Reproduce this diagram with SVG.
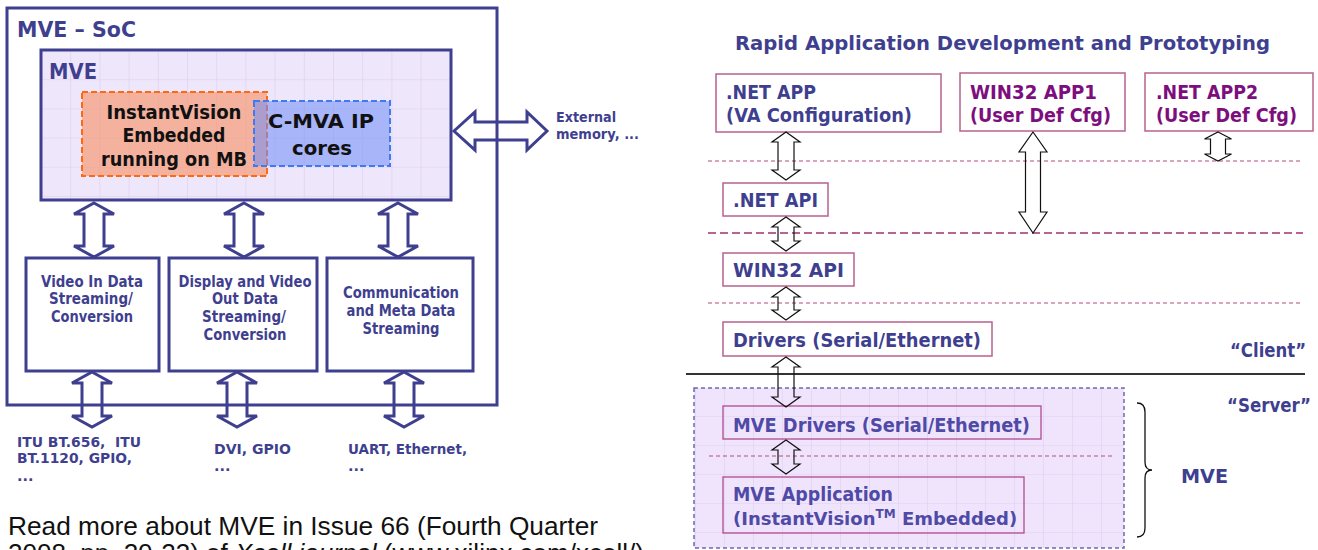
<svg xmlns="http://www.w3.org/2000/svg" width="1318" height="550" viewBox="0 0 1318 550">
<style>
.b{font-family:'DejaVu Sans',Verdana,sans-serif;font-weight:bold}
.navy{fill:#3f3f8f}
.purp{fill:#7d0e7d}
.blk{fill:#111}
.mv{fill:#4e4aa6}
.frame{fill:none;stroke:#3f3f8f;stroke-width:3}
.big{font-size:21px}
.t19{font-size:19px}
.t15{font-size:15px}
.t14{font-size:14.5px}
.t13{font-size:13.5px}
.pbox{fill:#fff;stroke:#b8608f;stroke-width:1.5}
.pboxin{fill:none;stroke:#b04a90;stroke-width:1.3}
.darr{fill:none;stroke:#3f3f8f;stroke-width:3;stroke-linejoin:miter}
.sarr{fill:none;stroke:#111;stroke-width:1.2}
.sep{stroke:#b5487f;stroke-width:1.2;stroke-dasharray:4 3}
.sep2{stroke:#a03070;stroke-width:1.6;stroke-dasharray:8 4}
.para{font-family:'Liberation Sans',Arial,sans-serif;font-size:26px;fill:#111}
</style>
<defs>
<pattern id="gridL" patternUnits="userSpaceOnUse" x="41" y="50" width="29.2" height="29.2">
<rect width="29.2" height="29.2" fill="#eee6fb"/>
<path d="M0,0 H29.2 M0,0 V29.2" stroke="#dccff0" stroke-width="1.2" fill="none"/>
</pattern>
<pattern id="gridR" patternUnits="userSpaceOnUse" x="695" y="387" width="29" height="29">
<rect width="29" height="29" fill="#f0e4fd"/>
<path d="M0,0 H29 M0,0 V29" stroke="#dfcff2" stroke-width="1.2" fill="none"/>
</pattern>
</defs>

<!-- LEFT: MVE SoC -->
<g id="soc">
<rect x="7" y="8" width="490" height="397" fill="#fff" stroke="#3f3f8f" stroke-width="3"/>
<text class="b big navy" x="17" y="37" textLength="119" lengthAdjust="spacingAndGlyphs">MVE – SoC</text>
</g>
<g id="mve">
<rect x="41" y="50" width="410" height="150" fill="url(#gridL)" stroke="#3f3f8f" stroke-width="3"/>
<text class="b big navy" x="49" y="79" textLength="48" lengthAdjust="spacingAndGlyphs">MVE</text>
</g>
<g id="instantvision">
<rect x="82" y="92" width="185" height="84" fill="#f98f60" fill-opacity="0.6" stroke="#ff6a10" stroke-width="2" stroke-dasharray="6 3"/>
</g>
<g id="cmva">
<rect x="254" y="101" width="136" height="65" fill="#6f8cf5" fill-opacity="0.55" stroke="#3c7cf0" stroke-width="2" stroke-dasharray="6 3"/>
</g>
<g id="instantvision-label" class="b t19 blk" text-anchor="middle">
<text x="174" y="119" textLength="135" lengthAdjust="spacingAndGlyphs">InstantVision</text>
<text x="174" y="142" textLength="103" lengthAdjust="spacingAndGlyphs">Embedded</text>
<text x="174" y="166" textLength="146" lengthAdjust="spacingAndGlyphs">running on MB</text>
</g>
<g id="cmva-label" class="b blk" font-size="20" text-anchor="middle">
<text x="321" y="128" textLength="106" lengthAdjust="spacingAndGlyphs">C-MVA IP</text>
<text x="322" y="155" textLength="60" lengthAdjust="spacingAndGlyphs">cores</text>
</g>

<g id="video-in">
<rect x="26" y="258" width="133" height="113" class="frame" fill="#fff"/>
<g class="b t15 navy" text-anchor="middle">
<text x="92" y="287" textLength="102" lengthAdjust="spacingAndGlyphs">Video In Data</text>
<text x="91" y="304" textLength="84" lengthAdjust="spacingAndGlyphs">Streaming/</text>
<text x="92" y="322" textLength="82" lengthAdjust="spacingAndGlyphs">Conversion</text>
</g>
</g>
<g id="display-out">
<rect x="169" y="258" width="148" height="113" class="frame"/>
<g class="b t15 navy" text-anchor="middle">
<text x="245" y="287" textLength="133" lengthAdjust="spacingAndGlyphs">Display and Video</text>
<text x="245" y="304" textLength="66" lengthAdjust="spacingAndGlyphs">Out Data</text>
<text x="244" y="322" textLength="84" lengthAdjust="spacingAndGlyphs">Streaming/</text>
<text x="245" y="340" textLength="83" lengthAdjust="spacingAndGlyphs">Conversion</text>
</g>
</g>
<g id="comm">
<rect x="327" y="258" width="146" height="113" class="frame"/>
<g class="b t15 navy" text-anchor="middle">
<text x="401" y="298" textLength="116" lengthAdjust="spacingAndGlyphs">Communication</text>
<text x="401" y="316" textLength="109" lengthAdjust="spacingAndGlyphs">and Meta Data</text>
<text x="401" y="334" textLength="77" lengthAdjust="spacingAndGlyphs">Streaming</text>
</g>
</g>

<g id="io-video" class="b t14 navy">
<text x="17" y="447" textLength="124" lengthAdjust="spacingAndGlyphs" style="white-space:pre">ITU BT.656,  ITU</text>
<text x="17" y="463" textLength="115" lengthAdjust="spacingAndGlyphs">BT.1120, GPIO,</text>
<text x="17" y="481">...</text>
</g>
<g id="io-display" class="b t14 navy">
<text x="214" y="454" textLength="77" lengthAdjust="spacingAndGlyphs">DVI, GPIO</text>
<text x="214" y="471">...</text>
</g>
<g id="io-comm" class="b t14 navy">
<text x="348" y="454" textLength="119" lengthAdjust="spacingAndGlyphs">UART, Ethernet,</text>
<text x="348" y="471">...</text>
</g>
<g id="ext-mem" class="b t13 navy">
<text x="556" y="122" textLength="60" lengthAdjust="spacingAndGlyphs">External</text>
<text x="556" y="139" textLength="83" lengthAdjust="spacingAndGlyphs">memory, ...</text>
</g>

<g id="note">
<text class="para" x="8" y="535" textLength="590" lengthAdjust="spacingAndGlyphs">Read more about MVE in Issue 66 (Fourth Quarter</text>
<text class="para" x="8" y="562">2008, pp. 20-23) of <tspan font-style="italic">Xcell journal</tspan> (www.xilinx.com/xcell/)</text>
</g>

<!-- RIGHT -->
<g id="title">
<text class="b navy" font-size="20" x="735" y="50" textLength="535" lengthAdjust="spacingAndGlyphs">Rapid Application Development and Prototyping</text>
</g>

<g id="layers">
<line x1="708" y1="161" x2="1303" y2="161" class="sep"/>
<line x1="708" y1="233" x2="1303" y2="233" class="sep2"/>
<line x1="708" y1="303" x2="1303" y2="303" class="sep"/>
<line x1="686" y1="374" x2="1305" y2="374" stroke="#333" stroke-width="2"/>
</g>

<g id="net-app">
<rect x="716" y="74" width="225" height="58" class="pbox"/>
<text class="b t19 navy" x="726" y="99" textLength="90" lengthAdjust="spacingAndGlyphs">.NET APP</text>
<text class="b t19 navy" x="726" y="122" textLength="186" lengthAdjust="spacingAndGlyphs">(VA Configuration)</text>
</g>
<g id="win32-app1">
<rect x="960" y="73" width="165" height="58" class="pbox"/>
<text class="b t19 purp" x="970" y="99" textLength="127" lengthAdjust="spacingAndGlyphs">WIN32 APP1</text>
<text class="b t19 purp" x="970" y="122" textLength="141" lengthAdjust="spacingAndGlyphs">(User Def Cfg)</text>
</g>
<g id="net-app2">
<rect x="1145" y="73" width="168" height="58" class="pbox"/>
<text class="b t19 purp" x="1156" y="99" textLength="102" lengthAdjust="spacingAndGlyphs">.NET APP2</text>
<text class="b t19 purp" x="1156" y="122" textLength="141" lengthAdjust="spacingAndGlyphs">(User Def Cfg)</text>
</g>
<g id="net-api">
<rect x="723" y="183" width="105" height="33" class="pbox"/>
<text class="b t19 navy" x="733" y="207" textLength="85" lengthAdjust="spacingAndGlyphs">.NET API</text>
</g>
<g id="win32-api">
<rect x="723" y="253" width="131" height="33" class="pbox"/>
<text class="b t19 navy" x="733" y="277" textLength="111" lengthAdjust="spacingAndGlyphs">WIN32 API</text>
</g>
<g id="drivers">
<rect x="723" y="322" width="269" height="34" class="pbox"/>
<text class="b t19 navy" x="733" y="347" textLength="248" lengthAdjust="spacingAndGlyphs">Drivers (Serial/Ethernet)</text>
</g>

<g id="mve-server">
<rect x="694" y="388" width="430" height="160" fill="url(#gridR)" stroke="#6a6ab0" stroke-width="1.5" stroke-dasharray="4 3"/>
<line x1="709" y1="456" x2="1113" y2="456" class="sep"/>
</g>
<g id="mve-drivers">
<rect x="723" y="406" width="318" height="33" class="pboxin"/>
<text class="b t19 mv" x="733" y="432" textLength="297" lengthAdjust="spacingAndGlyphs">MVE Drivers (Serial/Ethernet)</text>
</g>
<g id="mve-app">
<rect x="723" y="477" width="301" height="56" class="pboxin"/>
<text class="b t19 mv" x="733" y="501" textLength="160" lengthAdjust="spacingAndGlyphs">MVE Application</text>
<text class="b mv" font-size="18" x="733" y="525">(InstantVision<tspan font-size="12" dy="-7">TM</tspan><tspan dy="7"> Embedded)</tspan></text>
</g>

<g id="client-label">
<text class="b t19 navy" x="1230" y="357" textLength="76" lengthAdjust="spacingAndGlyphs">“Client”</text>
</g>
<g id="server-label">
<text class="b t19 navy" x="1227" y="412" textLength="84" lengthAdjust="spacingAndGlyphs">“Server”</text>
</g>
<g id="mve-brace">
<path d="M1137,403 Q1145,403 1145,412 L1145,462 Q1145,470 1152,470 Q1145,470 1145,478 L1145,528 Q1145,537 1137,537" fill="none" stroke="#111" stroke-width="1.3"/>
<text class="b navy" font-size="20" x="1181" y="483" textLength="47" lengthAdjust="spacingAndGlyphs">MVE</text>
</g>

<g id="connectors">
<!-- left thick double arrows -->
<path class="darr" d="M94,203 L114,214 L104,214 L104,246 L114,246 L94,257 L74,246 L84,246 L84,214 L74,214 Z"/>
<path class="darr" d="M244,203 L264,214 L254,214 L254,246 L264,246 L244,257 L224,246 L234,246 L234,214 L224,214 Z"/>
<path class="darr" d="M398,203 L418,214 L408,214 L408,246 L418,246 L398,257 L378,246 L388,246 L388,214 L378,214 Z"/>
<path class="darr" d="M92,372 L112,383 L102,383 L102,416 L112,416 L92,427 L72,416 L82,416 L82,383 L72,383 Z"/>
<path class="darr" d="M237,372 L257,383 L247,383 L247,416 L257,416 L237,427 L217,416 L227,416 L227,383 L217,383 Z"/>
<path class="darr" d="M404,372 L424,383 L414,383 L414,416 L424,416 L404,427 L384,416 L394,416 L394,383 L384,383 Z"/>
<path class="darr" d="M454,131 L475,112 L475,122 L527,122 L527,112 L547,131 L527,150 L527,140 L475,140 L475,150 Z"/>
<!-- right thin double arrows -->
<path class="sarr" d="M786,132 L800,142 L794,142 L794,170 L800,170 L786,180 L772,170 L778,170 L778,142 L772,142 Z"/>
<path class="sarr" d="M786,217 L800,227 L794,227 L794,241 L800,241 L786,251 L772,241 L778,241 L778,227 L772,227 Z"/>
<path class="sarr" d="M786,287 L800,297 L794,297 L794,310 L800,310 L786,320 L772,310 L778,310 L778,297 L772,297 Z"/>
<path class="sarr" d="M786,357 L800,367 L794,367 L794,397 L800,397 L786,407 L772,397 L778,397 L778,367 L772,367 Z"/>
<path class="sarr" d="M786,440 L800,450 L794,450 L794,464 L800,464 L786,474 L772,464 L778,464 L778,450 L772,450 Z"/>
<path class="sarr" d="M1033,132 L1047,152 L1040.5,152 L1040.5,212 L1047,212 L1033,233 L1019,212 L1025.5,212 L1025.5,152 L1019,152 Z"/>
<path class="sarr" d="M1218,132 L1231.5,139 L1225.5,139 L1225.5,154 L1231.5,154 L1218,161 L1204.5,154 L1210.5,154 L1210.5,139 L1204.5,139 Z"/>
</g>
</svg>
